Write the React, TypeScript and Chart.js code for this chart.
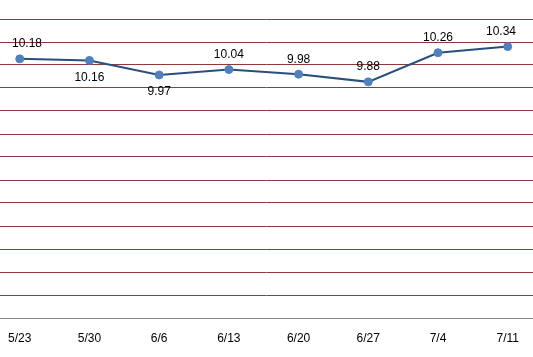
import React, { useEffect, useRef } from "react";
import { Chart, registerables } from "chart.js";
Chart.register(...registerables);

const categories = ["5/23", "5/30", "6/6", "6/13", "6/20", "6/27", "7/4", "7/11"];
const values = [10.18, 10.16, 9.97, 10.04, 9.98, 9.88, 10.26, 10.34];
const labelPlacement = ["above", "below", "below", "above", "above", "above", "above", "above"];
const yMin = 6.8;
const yMax = 10.7;
const yStep = 0.3;

const FONT = "'Liberation Sans', Arial, sans-serif";

const labelPlugin = {
  id: "pointLabels",
  afterDatasetsDraw(chart: any) {
    const ctx = chart.ctx;
    const meta = chart.getDatasetMeta(0);
    ctx.save();
    ctx.font = `12px ${FONT}`;
    ctx.fillStyle = "#000";
    ctx.textAlign = "center";
    ctx.textBaseline = "middle";
    meta.data.forEach((pt: any, i: number) => {
      const text = values[i].toFixed(2);
      const w = ctx.measureText(text).width;
      let x = pt.x;
      x = Math.max(x, 12 + w / 2);
      x = Math.min(x, 516 - w / 2);
      const y = labelPlacement[i] === "above" ? pt.y - 15 : pt.y + 17;
      ctx.fillText(text, x, y);
    });
    ctx.restore();
  },
};

export default function App() {
  const ref = useRef<HTMLCanvasElement>(null);
  useEffect(() => {
    document.body.style.margin = "0";
    const chart = new Chart(ref.current!, {
      type: "line",
      data: {
        datasets: [
          {
            data: values.map((v, i) => ({ x: i, y: v })),
            borderColor: "#2a4f7f",
            borderWidth: 2,
            pointRadius: 4,
            pointBackgroundColor: "#4f81bd",
            pointBorderColor: "#4f81bd",
            pointBorderWidth: 1,
            tension: 0,
            clip: false,
          },
        ],
      },
      options: {
        responsive: false,
        animation: false,
        devicePixelRatio: 1,
        layout: { autoPadding: false, padding: { top: 19, left: 0, right: 0, bottom: 0 } },
        plugins: { legend: { display: false }, tooltip: { enabled: false } },
        scales: {
          x: {
            type: "linear",
            min: -0.283,
            max: 7.363,
            afterBuildTicks: (scale: any) => {
              scale.ticks = categories.map((_, i) => ({ value: i }));
            },
            afterFit: (scale: any) => {
              scale.height = 39;
            },
            ticks: {
              callback: (v: any) => ["", categories[v] ?? ""],
              color: "#000",
              font: { family: FONT, size: 12, lineHeight: "14px" },
              padding: 0,
              maxRotation: 0,
              autoSkip: false,
            },
            grid: { display: false, drawTicks: false },
            border: { display: true, color: "#888888", width: 1 },
          },
          y: {
            min: yMin,
            max: yMax,
            afterBuildTicks: (scale: any) => {
              const t = [];
              for (let i = 0; i <= Math.round((yMax - yMin) / yStep); i++) t.push({ value: yMin + i * yStep });
              scale.ticks = t;
            },
            afterFit: (scale: any) => {
              scale.width = 0;
            },
            ticks: { display: false },
            grid: { color: "#8c3a3a", lineWidth: 1, drawTicks: false },
            border: { display: false },
          },
        },
      },
      plugins: [labelPlugin],
    } as any);
    return () => chart.destroy();
  }, []);
  return (
    <div style={{ width: 533, height: 357 }}>
      <canvas ref={ref} width={533} height={357} />
    </div>
  );
}
